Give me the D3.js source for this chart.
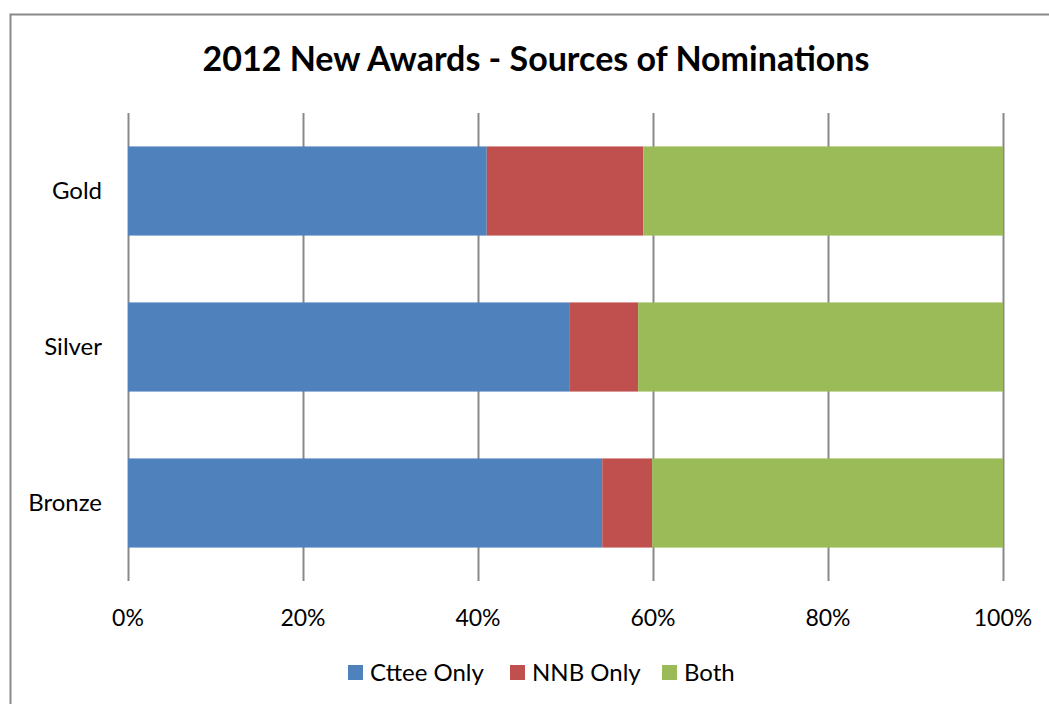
<!DOCTYPE html>
<html>
<head>
<meta charset="utf-8">
<script src="https://cdn.jsdelivr.net/npm/d3@7"></script>
<style>
  body { margin: 0; background: #fff; }
  svg text { font-family: Lato, "Open Sans", sans-serif; fill: #000; }
</style>
</head>
<body>
<svg id="chart" width="1049" height="704"></svg>
<script>
// chart values (percent of row)
const categories = ["Gold", "Silver", "Bronze"];
const seriesNames = ["Cttee Only", "NNB Only", "Both"];
const cttee = [41.0, 50.5, 54.2];
const nnb = [17.9, 7.8, 5.7];
const both = [41.1, 41.7, 40.1];
const tickValues = [0, 20, 40, 60, 80, 100];
const colors = ["#4F81BD", "#C0504D", "#9BBB59"];

const svg = d3.select("#chart");

let margin = {top: 113, left: 128, right: 46, bottom: 123};
let width = 1049;
let height = 704;

// outer frame (only top and left edges show in the crop)
svg.append("path")
  .attr("d", "M10.5,704 L10.5,14.5 L1049,14.5")
  .attr("fill", "none")
  .attr("stroke", "#898989")
  .attr("stroke-width", 2);

svg.append("text")
  .attr("x", 536)
  .attr("y", 71)
  .attr("text-anchor", "middle")
  .attr("font-size", 34)
  .attr("font-weight", "bold")
  .text("2012 New Awards - Sources of Nominations");

let x = d3.scaleLinear()
  .domain([0, 100])
  .range([margin.left, width - margin.right]);

let y = d3.scaleBand()
  .domain(categories)
  .range([margin.top, height - margin.bottom])
  .paddingInner(0.4286)
  .paddingOuter(0.2143);

// gridlines
svg.append("g")
  .selectAll("line")
  .data(tickValues)
  .join("line")
  .attr("x1", d => Math.round(x(d)) + 0.5)
  .attr("x2", d => Math.round(x(d)) + 0.5)
  .attr("y1", margin.top)
  .attr("y2", height - margin.bottom)
  .attr("stroke", "#898989")
  .attr("stroke-width", 2);

let rows = categories.map((c, i) => ({cat: c, vals: [cttee[i], nnb[i], both[i]]}));
let stack = d3.stack().keys([0, 1, 2]).value((d, k) => d.vals[k]);
let layers = stack(rows);

svg.append("g")
  .selectAll("g")
  .data(layers)
  .join("g")
  .attr("fill", (d, i) => colors[i])
  .selectAll("rect")
  .data(d => d)
  .join("rect")
  .attr("x", d => x(d[0]))
  .attr("width", d => x(d[1]) - x(d[0]))
  .attr("y", d => y(d.data.cat))
  .attr("height", y.bandwidth());

// x axis labels
svg.append("g")
  .selectAll("text")
  .data(tickValues)
  .join("text")
  .attr("x", d => x(d))
  .attr("y", 626)
  .attr("text-anchor", "middle")
  .attr("font-size", 23)
  .text(d => d + "%");

// category labels
svg.append("g")
  .selectAll("text")
  .data(categories)
  .join("text")
  .attr("x", 102)
  .attr("y", d => y(d) + y.bandwidth() / 2 + 8)
  .attr("text-anchor", "end")
  .attr("font-size", 24)
  .text(d => d);

// legend
let legendX = [348, 510, 662];
let legend = svg.append("g")
  .selectAll("g")
  .data(seriesNames)
  .join("g")
  .attr("transform", (d, i) => "translate(" + legendX[i] + ",665)");

legend.append("rect")
  .attr("width", 15)
  .attr("height", 15)
  .attr("fill", (d, i) => colors[i]);

legend.append("text")
  .attr("x", 22)
  .attr("y", 16)
  .attr("font-size", 24)
  .text(d => d);
</script>
</body>
</html>
